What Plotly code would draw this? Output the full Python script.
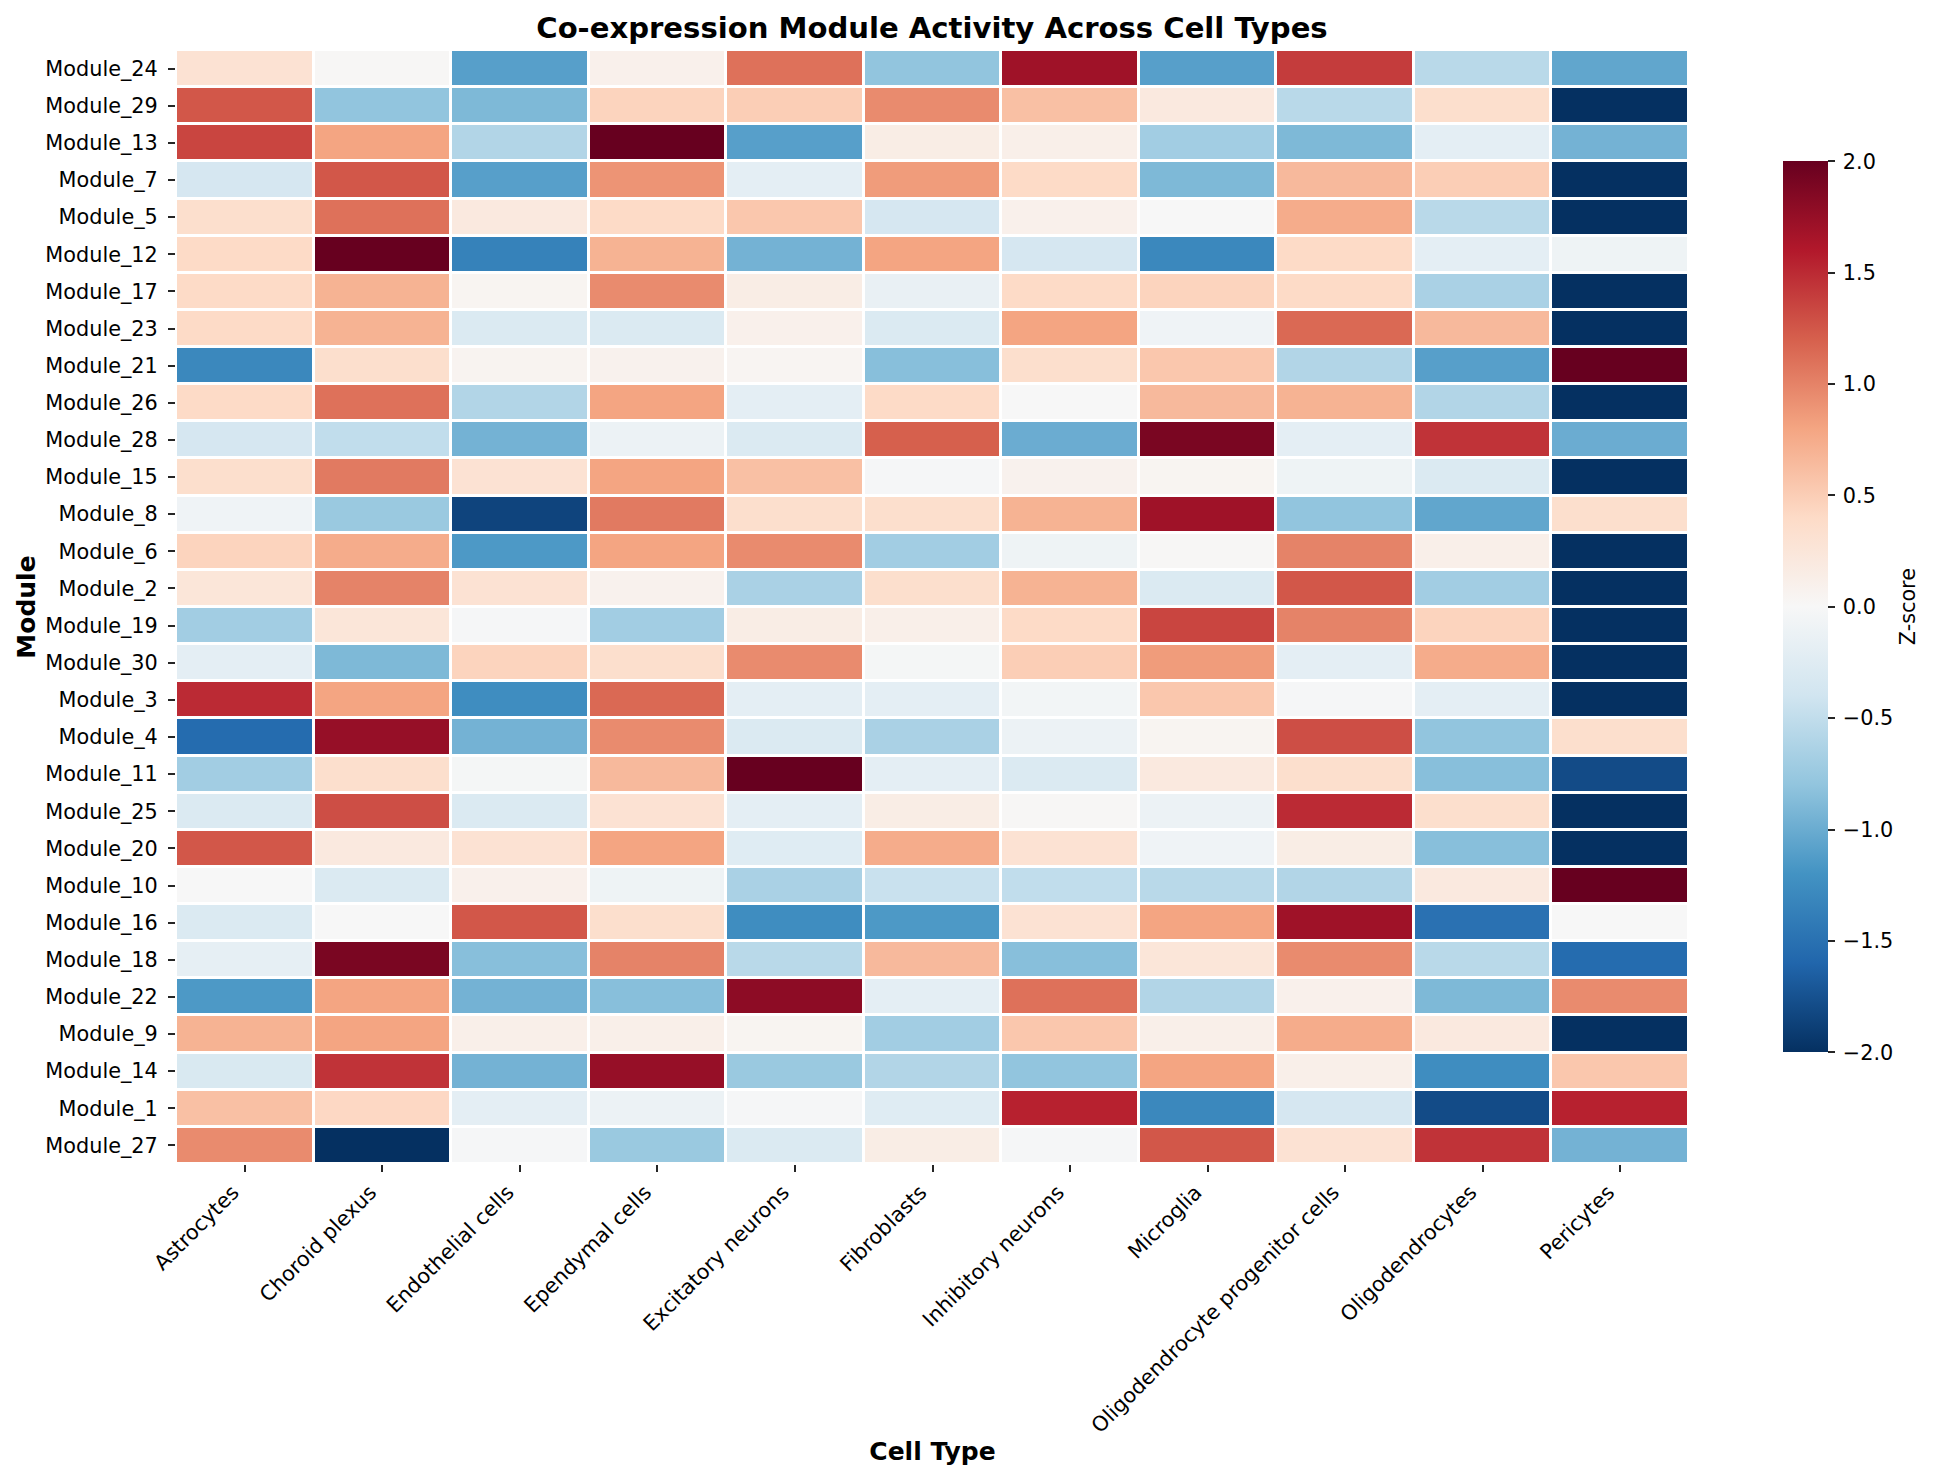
#!/usr/bin/env python3
# -*- coding: utf-8 -*-
import plotly.graph_objects as go

cell_types = ['Astrocytes', 'Choroid plexus', 'Endothelial cells', 'Ependymal cells',
              'Excitatory neurons', 'Fibroblasts', 'Inhibitory neurons', 'Microglia',
              'Oligodendrocyte progenitor cells', 'Oligodendrocytes', 'Pericytes']

modules = ['Module_24', 'Module_29', 'Module_13', 'Module_7', 'Module_5', 'Module_12',
           'Module_17', 'Module_23', 'Module_21', 'Module_26', 'Module_28', 'Module_15',
           'Module_8', 'Module_6', 'Module_2', 'Module_19', 'Module_30', 'Module_3',
           'Module_4', 'Module_11', 'Module_25', 'Module_20', 'Module_10', 'Module_16',
           'Module_18', 'Module_22', 'Module_9', 'Module_14', 'Module_1', 'Module_27']

# z-scores, one list per module
mod_24 = [0.3, 0.02, -1.1, 0.1, 1.1, -0.8, 1.7, -1.1, 1.4, -0.55, -1.05]
mod_29 = [1.25, -0.8, -0.9, 0.45, 0.5, 0.95, 0.6, 0.2, -0.55, 0.35, -2]
mod_13 = [1.35, 0.8, -0.6, 2.0, -1.1, 0.15, 0.12, -0.7, -0.9, -0.2, -0.95]
mod_7 = [-0.35, 1.25, -1.1, 0.9, -0.2, 0.85, 0.4, -0.9, 0.65, 0.5, -2]
mod_5 = [0.35, 1.1, 0.2, 0.4, 0.55, -0.35, 0.1, 0.0, 0.75, -0.55, -2]
mod_12 = [0.4, 2.0, -1.35, 0.7, -0.95, 0.8, -0.35, -1.3, 0.4, -0.2, -0.1]
mod_17 = [0.4, 0.7, 0.05, 0.95, 0.15, -0.15, 0.4, 0.45, 0.4, -0.65, -2]
mod_23 = [0.4, 0.7, -0.3, -0.3, 0.1, -0.3, 0.8, -0.08, 1.15, 0.65, -2]
mod_21 = [-1.3, 0.35, 0.06, 0.08, 0.04, -0.85, 0.35, 0.55, -0.6, -1.1, 2.0]
mod_26 = [0.4, 1.1, -0.6, 0.8, -0.2, 0.4, 0.0, 0.65, 0.7, -0.6, -2]
mod_28 = [-0.35, -0.5, -0.95, -0.12, -0.3, 1.2, -1.0, 1.9, -0.2, 1.45, -1.0]
mod_15 = [0.35, 1.05, 0.3, 0.8, 0.6, -0.02, 0.08, 0.05, -0.1, -0.3, -2]
mod_8 = [-0.08, -0.75, -1.85, 1.05, 0.35, 0.35, 0.7, 1.7, -0.8, -1.05, 0.35]
mod_6 = [0.45, 0.75, -1.15, 0.8, 0.95, -0.7, -0.1, 0.02, 1.0, 0.12, -2]
mod_2 = [0.25, 1.0, 0.3, 0.08, -0.65, 0.35, 0.7, -0.3, 1.25, -0.7, -2]
mod_19 = [-0.7, 0.25, -0.02, -0.7, 0.15, 0.12, 0.4, 1.35, 1.0, 0.45, -2]
mod_30 = [-0.2, -0.9, 0.45, 0.35, 0.95, -0.03, 0.5, 0.85, -0.2, 0.75, -2]
mod_3 = [1.5, 0.8, -1.25, 1.15, -0.2, -0.2, -0.05, 0.55, -0.02, -0.2, -2]
mod_4 = [-1.55, 1.75, -0.95, 0.95, -0.3, -0.65, -0.12, 0.05, 1.3, -0.8, 0.35]
mod_11 = [-0.7, 0.35, -0.03, 0.65, 2.0, -0.2, -0.3, 0.2, 0.35, -0.85, -1.8]
mod_25 = [-0.3, 1.3, -0.3, 0.3, -0.2, 0.15, 0.02, -0.12, 1.5, 0.35, -2]
mod_20 = [1.25, 0.2, 0.3, 0.8, -0.25, 0.75, 0.3, -0.08, 0.15, -0.85, -2]
mod_10 = [0.0, -0.3, 0.1, -0.1, -0.65, -0.45, -0.5, -0.55, -0.6, 0.2, 2.0]
mod_16 = [-0.3, 0.0, 1.25, 0.35, -1.25, -1.15, 0.3, 0.8, 1.7, -1.5, 0.0]
mod_18 = [-0.18, 1.9, -0.85, 1.0, -0.55, 0.65, -0.85, 0.25, 0.95, -0.55, -1.55]
mod_22 = [-1.15, 0.8, -0.95, -0.85, 1.8, -0.2, 1.1, -0.6, 0.1, -0.9, 0.95]
mod_9 = [0.7, 0.8, 0.12, 0.12, 0.05, -0.7, 0.55, 0.12, 0.75, 0.2, -2]
mod_14 = [-0.32, 1.45, -0.95, 1.75, -0.75, -0.6, -0.8, 0.8, 0.12, -1.25, 0.55]
mod_1 = [0.6, 0.42, -0.2, -0.12, -0.02, -0.25, 1.55, -1.3, -0.35, -1.8, 1.55]
mod_27 = [0.95, -2, -0.02, -0.75, -0.3, 0.15, -0.02, 1.25, 0.3, 1.45, -0.95]

z_vals = [mod_24, mod_29, mod_13, mod_7, mod_5, mod_12, mod_17, mod_23, mod_21, mod_26,
          mod_28, mod_15, mod_8, mod_6, mod_2, mod_19, mod_30, mod_3, mod_4, mod_11,
          mod_25, mod_20, mod_10, mod_16, mod_18, mod_22, mod_9, mod_14, mod_1, mod_27]

rdbu_r = ['#053061', '#2166ac', '#4393c3', '#92c5de', '#d1e5f0', '#f7f7f7',
          '#fddbc7', '#f4a582', '#d6604d', '#b2182b', '#67001f']
colorscale = [[i / 10, c] for i, c in enumerate(rdbu_r)]

FONT = 'DejaVu Sans'
TICK_SIZE = 20.8

fig = go.Figure()
fig.add_trace(
    go.Heatmap(z=z_vals, x=cell_types, y=modules,
               zmin=-2, zmax=2, colorscale=colorscale,
               xgap=3, ygap=3,
               colorbar=dict(x=1.0618, xanchor='left', xpad=0,
                             y=0.5002, yanchor='middle', ypad=0,
                             len=891, lenmode='pixels',
                             thickness=45, thicknessmode='pixels',
                             outlinewidth=0, dtick=0.5, tickformat='.1f',
                             ticks='outside', ticklen=7, tickwidth=1.6,
                             tickcolor='#262626', tickprefix='\u2009',
                             tickfont=dict(family=FONT, size=TICK_SIZE, color='black'))))

fig.update_layout(
    width=1936, height=1481,
    margin=dict(l=176, r=246.5, t=50, b=316.5),
    paper_bgcolor='white', plot_bgcolor='white',
    font=dict(family=FONT, size=TICK_SIZE, color='black'),
    title=dict(text='<b>Co-expression Module Activity Across Cell Types</b>',
               x=0.4814, xanchor='center', y=0.9815, yanchor='middle',
               font=dict(family=FONT, size=29.1, color='black')),
    annotations=[dict(text='Z-score', textangle=-90, showarrow=False,
                      xref='paper', yref='paper', x=1.1444, y=0.5002,
                      xanchor='center', yanchor='middle',
                      font=dict(family=FONT, size=TICK_SIZE, color='black'))])

fig.update_xaxes(title=dict(text='<b>Cell Type</b>', standoff=5,
                            font=dict(family=FONT, size=25, color='black')),
                 tickangle=-45, ticks='outside', ticklen=7, tickwidth=1.6,
                 tickcolor='#262626', showgrid=False, zeroline=False, showline=False,
                 ticklabelstandoff=0, ticklabelshift=-12,
                 tickfont=dict(family=FONT, size=TICK_SIZE, color='black'))
fig.update_yaxes(title=dict(text='<b>Module</b>', standoff=2,
                            font=dict(family=FONT, size=25, color='black')),
                 autorange='reversed', ticks='outside', ticklen=7, tickwidth=1.6,
                 tickcolor='#262626', showgrid=False, zeroline=False, showline=False,
                 ticklabelstandoff=6,
                 tickfont=dict(family=FONT, size=TICK_SIZE, color='black'))

fig.write_html("out.html", config=dict(displayModeBar=False),
               post_script="document.body.style.margin='0';")
